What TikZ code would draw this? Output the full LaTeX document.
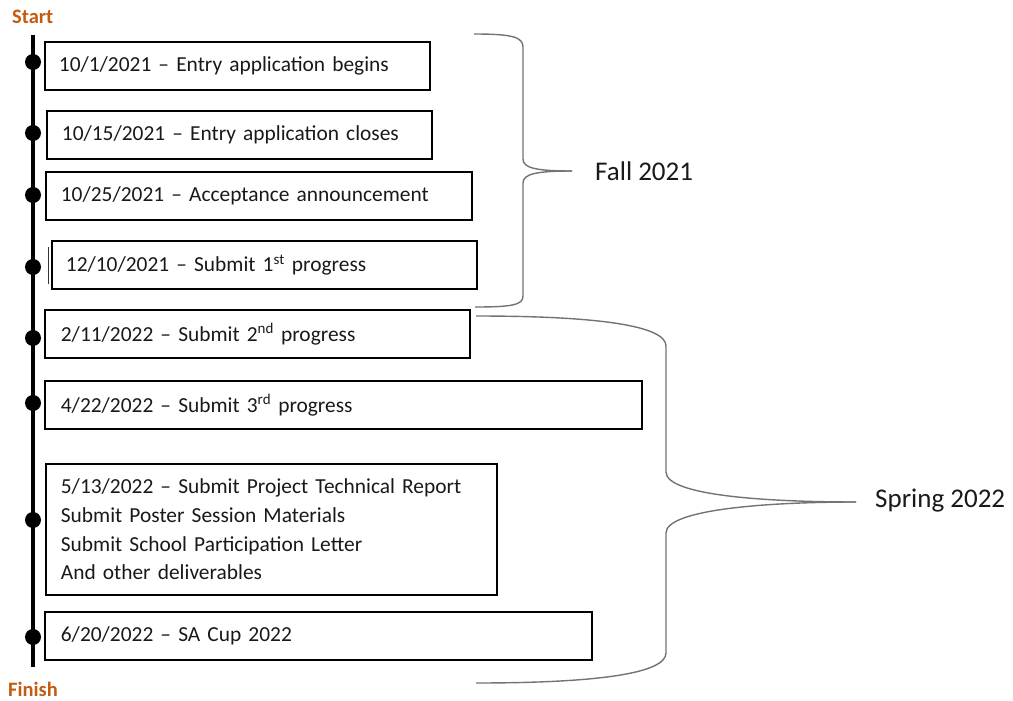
\documentclass[tikz,border=0pt]{standalone}
\usepackage{fontspec}
\setmainfont{Carlito}
\definecolor{milestone}{RGB}{197,90,17}
\definecolor{bracegray}{RGB}{115,115,115}
\definecolor{ink}{RGB}{25,25,25}
\newcommand{\boxfont}{\fontsize{21.4}{28.7}\selectfont}
\newcommand{\termfont}{\fontsize{27}{32}\selectfont}
\newcommand{\markfont}{\fontsize{20.5}{24}\selectfont\bfseries}
\tikzset{
  evt/.style={draw, line width=1.8pt, anchor=north west, align=left,
    inner ysep=0pt, font=\boxfont, text=ink},
  tdot/.style={circle, fill=black, inner sep=0pt, minimum size=16pt},
  timeline/.style={line width=3.2pt},
  brace/.style={draw=bracegray, line width=1.4pt},
  term/.style={anchor=west, font=\termfont, text=ink, inner sep=0pt},
  marklabel/.style={anchor=west, font=\markfont, text=milestone, inner sep=0pt}
}
\begin{document}
\begin{tikzpicture}[x=1pt, y=-1pt]
\useasboundingbox (0,0) rectangle (1013,701);

% start / finish markers
\node[marklabel] (start) at (12,17) {Start};
\node[marklabel] (finish) at (8,689) {Finish};

% event boxes
\node[evt, minimum width=385pt, minimum height=48pt, inner xsep=14pt, text width=357pt] (b1) at (44,41)
  {10/1/2021 – Entry application begins};
\node[evt, minimum width=385pt, minimum height=48pt, inner xsep=15pt, text width=355pt] (b2) at (46,110)
  {10/15/2021 – Entry application closes};
\node[evt, minimum width=426pt, minimum height=48pt, inner xsep=15pt, text width=396pt] (b3) at (45,171)
  {10/25/2021 – Acceptance announcement};
\node[evt, minimum width=425pt, minimum height=48pt, inner xsep=14pt, text width=397pt] (b4) at (51,240)
  {12/10/2021 – Submit 1\textsuperscript{st} progress};
\node[evt, minimum width=425pt, minimum height=48pt, inner xsep=16pt, text width=393pt] (b5) at (44,309)
  {2/11/2022 – Submit 2\textsuperscript{nd} progress};
\node[evt, minimum width=597pt, minimum height=48pt, inner xsep=16pt, text width=565pt] (b6) at (44,380)
  {4/22/2022 – Submit 3\textsuperscript{rd} progress};
\node[evt, minimum width=451pt, minimum height=131pt, inner xsep=15pt, text width=421pt] (b7) at (45,463)
  {5/13/2022 – Submit Project Technical Report\\
   Submit Poster Session Materials\\
   Submit School Participation Letter\\
   And other deliverables};
\node[evt, minimum width=547pt, minimum height=48pt, inner xsep=16pt, text width=515pt] (b8) at (44,611)
  {6/20/2022 – SA Cup 2022};

% small stub left of the fourth box
\coordinate (stubA) at (48,247);
\coordinate (stubB) at (48,284);
\draw[line width=1pt, black!80] (stubA) -- (stubB);

% timeline with its dots
\coordinate (ttop) at (33,35);
\coordinate (tbot) at (33,667);
\draw[timeline] (ttop) -- (tbot);
\node[tdot] (d1) at (33,62) {};
\node[tdot] (d2) at (33,133) {};
\node[tdot] (d3) at (33,195) {};
\node[tdot] (d4) at (33,267) {};
\node[tdot] (d5) at (33,338) {};
\node[tdot] (d6) at (33,403) {};
\node[tdot] (d7) at (33,520) {};
\node[tdot] (d8) at (33,637) {};

% term labels
\node[term] (fall) at (595,171) {Fall 2021};
\node[term] (spring) at (875,501) {Spring 2022};

% Fall brace
\coordinate (fa) at (474,34);
\coordinate (fb) at (475,307);
\coordinate (ftip) at (572,171);
\draw[brace] (fa) .. controls (512,34) and (523,37) .. (523,47) -- (523,159)
  .. controls (523,168) and (536,171) .. (ftip);
\draw[brace] (ftip) .. controls (536,171) and (523,174) .. (523,183) -- (523,296)
  .. controls (523,305) and (512,307) .. (fb);

% Spring brace
\coordinate (sa) at (476,316);
\coordinate (sb) at (476,683);
\coordinate (stip) at (856,502);
\draw[brace] (sa) .. controls (600,316) and (666,326) .. (666,346) -- (666,472)
  .. controls (666,496) and (770,502) .. (stip);
\draw[brace] (stip) .. controls (770,502) and (666,509) .. (666,533) -- (666,653)
  .. controls (666,673) and (600,683) .. (sb);
\end{tikzpicture}
\end{document}
